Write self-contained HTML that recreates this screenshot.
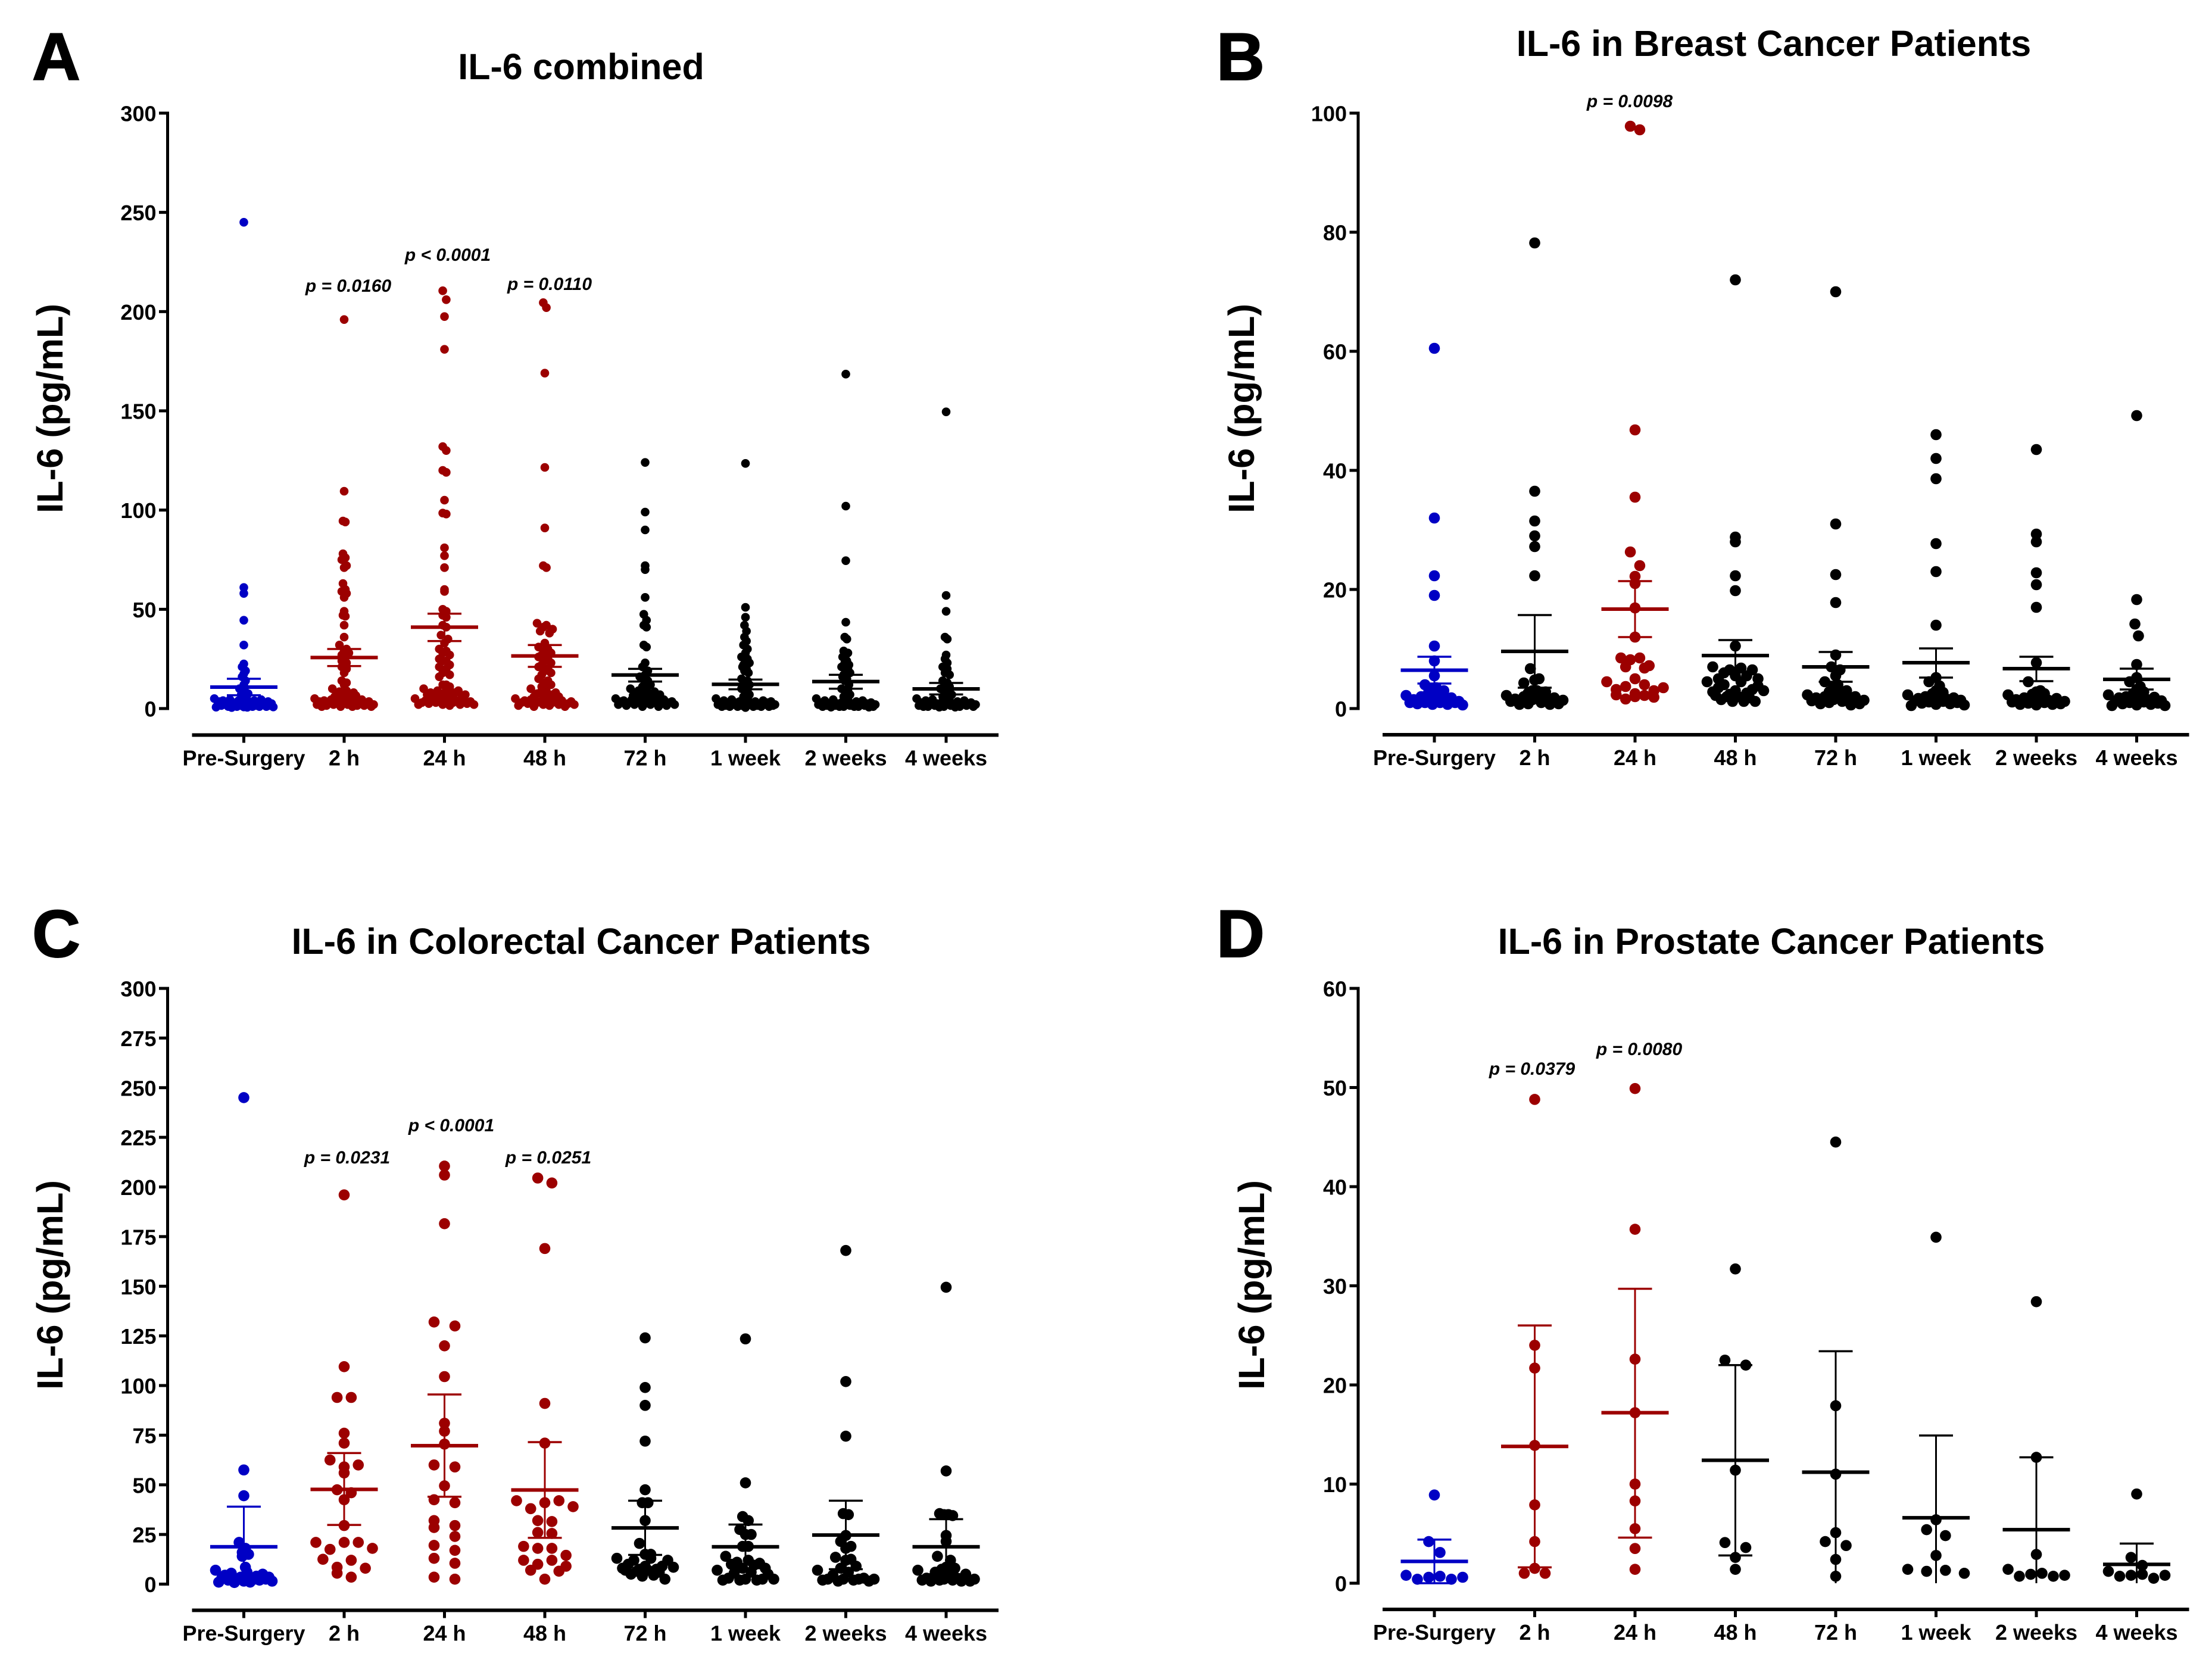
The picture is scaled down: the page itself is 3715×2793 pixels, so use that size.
<!DOCTYPE html>
<html><head><meta charset="utf-8">
<style>
html,body{margin:0;padding:0;background:#fff}
svg{display:block}
text{font-family:"Liberation Sans",Arial,sans-serif;font-weight:bold;fill:#000}
</style></head>
<body>
<svg id="fig" xmlns="http://www.w3.org/2000/svg" width="3715" height="2793" viewBox="0 0 3715 2793"></svg>
<script>
const categories = ["Pre-Surgery","2 h","24 h","48 h","72 h","1 week","2 weeks","4 weeks"];
const seriesColors = ["blue","red","red","red","black","black","black","black"];
const seriesColorsB = ["blue","black","red","black","black","black","black","black"];
const seriesColorsD = ["blue","red","red","black","black","black","black","black"];

const ticksA = [0,50,100,150,200,250,300];
const ticksB = [0,20,40,60,80,100];
const ticksC = [0,25,50,75,100,125,150,175,200,225,250,275,300];
const ticksD = [0,10,20,30,40,50,60];

const valuesA = [
 [245,61,58,44.5,32,22.5,21,19,17.5,16,14,12,10,9,8,7.5,7,5.5,5,5,4.5,4.5,4,4,4,3.5,3.5,3,3,3,3,2.5,2.5,2.5,2,2,2,2,2,1.5,1.5,1.5,1.5,1,1,1,1,1,0.8,0.8,0.7,0.6,0.5],
 [196,109.5,94.5,94,78,76,75,72,71,63,60,59,58,56,49,47,46.5,42,36,32,30,29,28,27,24,23,22,21,20,18,14,13,12,10,9,8.5,8,7.5,7,7,6.5,6,6,5.5,5,5,4.5,4.5,4,4,4,3.5,3.5,3,3,3,3,2.5,2.5,2,2,2,2,1.5,1.5,1.5,1,1,1,1],
 [210.5,206,197.5,181,132,130,120,119,105,98.5,98,81,77,71,60,59,50,49,47,46,42,41,37,35,33,30,29,28,27,25,24,24,22,21,20,18,17,16,12,12,11,10,10,9,9,8,8,8,7,7,6.5,6,6,5.5,5,5,5,4.5,4,4,3.5,3.5,3,3,3,2.5,2.5,2,2,2,2,1.5],
 [204.5,202,169,121.5,91,72,71,43,42,41,40,39,38,33,31,30,29,28,27,26,25,24,23,22,21,20,19,18,17,15,14,13,12,11,10,9,8,8,7.5,7,6.5,6,6,5.5,5,5,4.5,4,4,4,3.5,3.5,3,3,3,2.5,2.5,2,2,2,1.5,1.5,1,1],
 [124,99,90,72,70,56,47.5,44.5,42,41,32,31,23,21,19,17,16,14,13,12,11,10,9.5,9,8.5,8,7.5,7,7,6.5,6,6,5.5,5,5,4.5,4.5,4,4,4,3.5,3.5,3,3,3,3,2.5,2.5,2,2,2,2,1.5,1.5,1,1],
 [123.5,51,46,42,39,36,34,32,30,28,26,25,24,23,22,21,20,19,18,15,14,13,12,11,10,9,8,7,6,5,4.5,4.5,4,4,3.5,3.5,3.5,3,3,3,3,2.5,2.5,2.5,2,2,2,2,2,1.5,1.5,1.5,1.5,1,1,1,1,1,1,0.5],
 [168.5,102,74.5,43.5,36,35,29,28,27,26,24,23,22,21,20,19,18,17,16,15,14,12,10,9,8,7,6,5,5,4.5,4,4,3.5,3,3,3,2.5,2.5,2.5,2,2,2,2,2,1.5,1.5,1.5,1.5,1,1,1,1,1,1,0.7,0.7],
 [149.5,57,49,36,35,27,25,23,21,20,18,17,14,13,12,11,10,9,8,7,6,5.5,5,5,4.5,4,4,3.5,3,3,3,2.5,2.5,2.5,2,2,2,2,1.5,1.5,1.5,1.5,1,1,1,1,1,0.7,0.7]
];
const meansA = [10.8,25.7,41,26.5,16.9,12.2,13.6,9.9];
const upperA = [15,30,47.8,32,20,14.6,17,12.9];
const lowerA = [6.7,21.4,34,21,13.6,9.7,10,7.1];

const valuesB = [
 [60.5,32,22.3,19,10.5,8,5.5,4,3.5,3.2,3,2.8,2.5,2.2,2,2,1.8,1.5,1.5,1.2,1.2,1,1,1,1,0.8,0.7,0.7,0.6],
 [78.2,36.5,31.5,29,27.2,22.3,6.7,5,4.8,4.3,3,3,2.8,2.6,2.4,2.2,2,2,1.8,1.6,1.5,1.5,1.4,1.2,1,0.8,0.8,0.7,0.7],
 [97.8,97.2,46.8,35.5,26.3,24,22.2,21,16.9,12,8.5,8.5,8.2,7.2,7,6.8,5,4.5,4,3.7,3.5,3.2,3,2.5,2.3,2.2,2,1.9,1.6],
 [72,28.8,28,22.3,19.8,10.5,7,6.8,6.5,6.5,6,5.5,5.5,5,5,4.5,4.5,4,3.8,3.5,3.2,3,3,2.8,2.6,2.4,2.2,2,2,1.8,1.5,1.2,1.2,1.2],
 [70,31,22.5,17.8,9,7,6.5,5.5,4.5,4,3.7,3,2.8,2.5,2.3,2.2,2,2,1.8,1.7,1.5,1.4,1.3,1.2,1,0.8,0.8,0.6],
 [46,42,38.6,27.7,23,14,5.2,4.5,3.8,3,2.7,2.5,2.3,2.2,2,1.8,1.7,1.6,1.5,1.4,1.3,1.2,1.1,1,0.9,0.8,0.7,0.6,0.5],
 [43.5,29.3,28,22.8,20.8,17,7.7,4.5,3,2.8,2.5,2.4,2.3,2,1.8,1.7,1.5,1.4,1.3,1.2,1.1,1,0.9,0.8,0.7,0.7,0.6],
 [49.2,18.3,14.2,12.2,7.4,5.2,4.5,3.7,3.2,2.8,2.5,2.3,2.1,2,1.9,1.8,1.5,1.4,1.3,1.2,1.1,1,0.9,0.8,0.7,0.6,0.5,0.5]
];
const meansB = [6.44,9.6,16.7,8.9,7,7.7,6.7,4.9];
const upperB = [8.7,15.7,21.4,11.5,9.5,10.1,8.7,6.7];
const lowerB = [4.2,3.5,12,6.2,4.5,5.2,4.6,3.2];

const valuesC = [
 [245,57.5,44.5,21,18,16,15,14,8.5,7,6,5.5,5,4.5,4,3.5,3.5,3,3,2.5,2.5,2,2,1.5,1.5,1,1,0.8],
 [196,109.5,94,94,76,71,62.5,60,59,56,47.5,46,42.5,29.5,21,21,21,18,17.5,12.5,12,8.5,8,5.5,3.5],
 [210.5,206,181.5,132,130,120,104.5,81,77,70.5,60,59,49.5,42.5,41,32,29.5,28.5,24,19.5,17,13,10.5,3.5,2.5],
 [204.5,202,169,91,71,42,42,41,39,38,32,31.5,26,25.5,19,18,18,14.5,12,12,10,9,7,6.5,2.5],
 [124,99,90,72,47.5,41,41,32,20.5,15,15,13,13,12,12,10,9,9,8.5,8,7.5,7.5,7,7,6.5,6,5,4.5,4,2.5],
 [123.5,51,34,32,27.5,25,25,19,19,14,12,11,10.5,10,9.5,8,8,7,6,5.5,5,3,2.5,2.5,2.5,2,2,2],
 [168,102,74.5,35.5,35,24.5,21.5,19,18,13.5,12.5,12,9,8,7,6,4.5,3,2.5,2.5,2.5,2.5,2,2,1.5,1.5],
 [149.5,57,35.5,35,35,34.5,24.5,21.5,14,12,8.5,8,7.5,7,6,6,5,3,3,2.5,2.5,2,2,2,1.5,1.5,1.5]
];
const meansC = [18.8,47.7,69.7,47.4,28.3,18.8,24.7,18.8];
const upperC = [39,66,95.5,71.5,42,30,42,32.7];
const lowerC = [0.3,29.8,44,23.3,14.7,8,7.5,5];

const valuesD = [
 [8.9,4.2,3.1,0.8,0.7,0.6,0.6,0.4,0.4],
 [48.8,24,21.7,13.9,7.9,4.2,1.5,1,1],
 [49.9,35.7,22.6,17.2,10,8.3,5.5,3.5,1.4],
 [31.7,22.5,22,11.4,4.1,3.6,2.6,1.4],
 [44.5,17.9,11,5.1,4.2,3.8,2.4,0.7],
 [34.9,6.4,5.4,4.8,2.8,1.4,1.3,1.2,1],
 [28.4,12.7,2.9,1.4,1,0.9,0.8,0.7,0.7],
 [9,2.6,1.8,1.2,0.9,0.8,0.8,0.7,0.5]
];
const meansD = [2.2,13.8,17.2,12.4,11.2,6.6,5.4,1.9];
const upperD = [4.4,26,29.7,22,23.4,14.9,12.7,4];
const lowerD = [0,1.6,4.6,2.8,-1,-1.7,-1.9,-0.2];

const pLabelsA = ["p = 0.0160","p < 0.0001","p = 0.0110"];
const pLabelsB = ["p = 0.0098"];
const pLabelsC = ["p = 0.0231","p < 0.0001","p = 0.0251"];
const pLabelsD = ["p = 0.0379","p = 0.0080"];

const COLOR = {blue:"#0000c4", red:"#9c0000", black:"#000000"};
const svg = document.getElementById('fig');
const NS = "http://www.w3.org/2000/svg";

function mk(tag, attrs, parent){
  const n = document.createElementNS(NS, tag);
  for (const k in attrs) n.setAttribute(k, attrs[k]);
  (parent || svg).appendChild(n);
  return n;
}
function radicalInverse(i){
  let r = 0, f = 0.5;
  while (i > 0) { if (i & 1) r += f; i >>= 1; f /= 2; }
  return r;
}

/* Prism-style column scatter: values are binned, each bin is centred on the category,
   and the values in a bin are dealt evenly across its columns so the row stays flat. */
function swarm(vals, pxPerUnit, binPx, halfW, maxSp){
  const bins = {};
  vals.forEach(v => { const b = Math.floor(v * pxPerUnit / binPx); (bins[b] = bins[b] || []).push(v); });
  let maxN = 1;
  Object.values(bins).forEach(a => { if (a.length > maxN) maxN = a.length; });
  const sp = maxN > 1 ? Math.min(maxSp, 2 * halfW / (maxN - 1)) : 0;
  const out = [];
  Object.values(bins).forEach(a => {
    a.sort((p, q) => q - p);
    const n = a.length;
    const order = a.map((_, i) => i).sort((p, q) => radicalInverse(p) - radicalInverse(q));
    a.forEach((v, i) => {
      const col = order.indexOf(i);
      out.push({v: v, dx: (col - (n - 1) / 2) * sp});
    });
  });
  return out;
}

function drawPanel(p){
  const g = mk('g', {});
  
  
  const yScale = v => p.y0 - (v / p.yMax) * (p.y0 - p.yTop);
  const xScale = i => p.x0 + i * p.dx;
  const pxPerUnit = (p.y0 - p.yTop) / p.yMax;

  const letter = mk('text', {x: p.letterX, y: p.letterY, 'font-size': 112, stroke: '#000', 'stroke-width': 2}, g);
  letter.textContent = p.letter;
  
  

  const title = mk('text', {x: p.titleX, y: p.titleY, 'font-size': 61, 'text-anchor': 'middle'}, g);
  title.textContent = p.title;
  
  

  const yt = mk('text', {transform: 'translate(' + p.yTitleX + ',' + p.yTitleY + ') rotate(-90)', 'font-size': 61.5, 'text-anchor': 'middle'}, g);
  yt.textContent = 'IL-6 (pg/mL)';
  
  

  const yAxis = mk('rect', {x: p.axisX - 2.5, y: p.yTop - 2.5, width: 5, height: p.y0 - p.yTop + 5, fill: '#000'}, g);
  
  

  p.ticks.forEach(t => {
    const y = yScale(t);
    const tk = mk('rect', {x: p.axisX - 14.5, y: y - 2.5, width: 14.5, height: 5, fill: '#000'}, g);
    
    
    const lb = mk('text', {x: p.axisX - 19, y: y + 13.5, 'font-size': 36, 'text-anchor': 'end'}, g);
    lb.textContent = t;
    
    
  });

  const xAxis = mk('rect', {x: p.x0 - 87, y: p.axisY - 3, width: 7 * p.dx + 87 + 88, height: 6, fill: '#000'}, g);
  
  

  categories.forEach((c, i) => {
    const x = xScale(i);
    const tk = mk('rect', {x: x - 2.5, y: p.axisY, width: 5, height: 13, fill: '#000'}, g);
    
    
    const lb = mk('text', {x: x, y: p.axisY + 51, 'font-size': 36, 'text-anchor': 'middle'}, g);
    lb.textContent = c;
    
    

    const col = COLOR[p.colors[i]];
    const stemBottom = yScale(Math.max(p.lower[i], 0));
    const stem = mk('rect', {x: x - 1.5, y: yScale(p.upper[i]), width: 3, height: stemBottom - yScale(p.upper[i]), fill: col}, g);
    
    
    [p.upper[i], p.lower[i]].forEach(e => {
      if (e < 0) return;
      const cap = mk('rect', {x: x - 28.5, y: yScale(e) - 1.75, width: 57, height: 3.5, fill: col}, g);
      
      
    });
    const mean = mk('rect', {x: x - 56.5, y: yScale(p.means[i]) - 3, width: 113, height: 6, fill: col}, g);
    
    

    swarm(p.values[i], pxPerUnit, p.binPx, p.halfW, 35).forEach(d => {
      const dot = mk('circle', {cx: x + d.dx, cy: yScale(d.v), r: p.r, fill: col}, g);
      
      
    });
  });

  p.pLabels.forEach((txt, i) => {
    const t = mk('text', {x: p.pX[i], y: p.pY[i], 'font-size': 30, 'font-style': 'italic', 'text-anchor': 'middle'}, g);
    t.textContent = txt;
    
    
  });
}

drawPanel({letter:'A', title:'IL-6 combined', letterX:54, letterY:134, titleX:976, titleY:133,
  yTitleX:105, yTitleY:686, axisX:281.5, axisY:1234.5, y0:1190, yTop:190, yMax:300, x0:409.5, dx:168.5,
  ticks:ticksA, values:valuesA, means:meansA, upper:upperA, lower:lowerA, colors:seriesColors,
  r:7.3, binPx:18, halfW:49.5, pLabels:pLabelsA, pX:[585,752,923], pY:[490,438,487]});

drawPanel({letter:'B', title:'IL-6 in Breast Cancer Patients', letterX:2043, letterY:134, titleX:2979, titleY:94,
  yTitleX:2106, yTitleY:686, axisX:2281, axisY:1234, y0:1190, yTop:190, yMax:100, x0:2409, dx:168.5,
  ticks:ticksB, values:valuesB, means:meansB, upper:upperB, lower:lowerB, colors:seriesColorsB,
  r:9.3, binPx:24, halfW:47.5, pLabels:pLabelsB, pX:[2737], pY:[180]});

drawPanel({letter:'C', title:'IL-6 in Colorectal Cancer Patients', letterX:54, letterY:1607, titleX:976, titleY:1602,
  yTitleX:105, yTitleY:2158, axisX:281.5, axisY:2704.5, y0:2660.5, yTop:1660, yMax:300, x0:409.5, dx:168.5,
  ticks:ticksC, values:valuesC, means:meansC, upper:upperC, lower:lowerC, colors:seriesColors,
  r:9.3, binPx:24, halfW:47.5, pLabels:pLabelsC, pX:[583,758,921], pY:[1954,1900,1954]});

drawPanel({letter:'D', title:'IL-6 in Prostate Cancer Patients', letterX:2043, letterY:1607, titleX:2975, titleY:1602,
  yTitleX:2123, yTitleY:2158, axisX:2281, axisY:2703, y0:2659, yTop:1660, yMax:60, x0:2409, dx:168.5,
  ticks:ticksD, values:valuesD, means:meansD, upper:upperD, lower:lowerD, colors:seriesColorsD,
  r:9.3, binPx:24, halfW:47.5, pLabels:pLabelsD, pX:[2573,2753], pY:[1805,1772]});
</script>
</body></html>
